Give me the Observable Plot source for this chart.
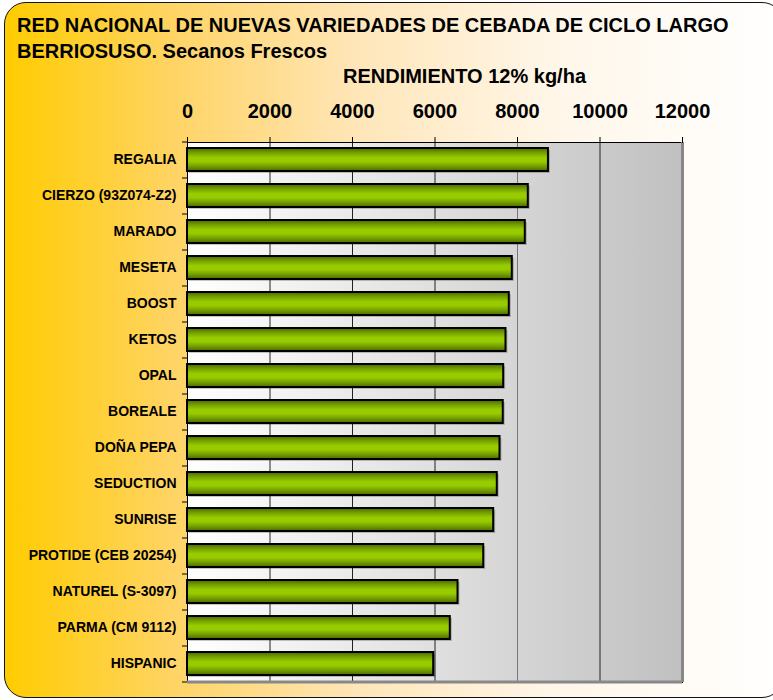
<!DOCTYPE html>
<html><head><meta charset="utf-8">
<script src="https://cdn.jsdelivr.net/npm/d3@7"></script>
<script src="https://cdn.jsdelivr.net/npm/@observablehq/plot@0.6"></script>
<style>
body{margin:0;}
#wrap{position:relative;width:773px;height:700px;overflow:hidden;background:#fff;font-family:"Liberation Sans",Arial,sans-serif;}
#bg{position:absolute;left:4px;top:2px;width:780px;height:696px;border:1.5px solid #111;border-radius:22px;box-sizing:border-box;
background:linear-gradient(to right,#FFCC00 0%,#FFD466 22%,#FFE6B8 45%,#FFF6E8 70%,#FFFFFF 100%);}
#title{position:absolute;left:17px;top:12px;font-weight:bold;font-size:20px;line-height:26px;color:#000;white-space:nowrap;}
#chart{position:absolute;left:0;top:60px;}
</style></head>
<body>
<div id="wrap"><div id="bg"></div>
<div id="title">RED NACIONAL DE NUEVAS VARIEDADES DE CEBADA DE CICLO LARGO<br>BERRIOSUSO. Secanos Frescos</div>
<div id="chart"></div></div>
<script>
const varieties = ["REGALIA","CIERZO (93Z074-Z2)","MARADO","MESETA","BOOST","KETOS","OPAL","BOREALE","DOÑA PEPA","SEDUCTION","SUNRISE","PROTIDE (CEB 20254)","NATUREL (S-3097)","PARMA (CM 9112)","HISPANIC"];
const yields = [8750,8262,8189,7874,7801,7721,7665,7655,7576,7510,7423,7181,6558,6371,5968];
const xTicks = [0,2000,4000,6000,8000,10000,12000];
const gridTicks = [2000,4000,6000,8000,10000];
const axisLabel = "RENDIMIENTO 12% kg/ha";

const data = varieties.map((v,i)=>({variety:v, value:yields[i]}));
const font = "Liberation Sans, Arial, sans-serif";

const chart = Plot.plot({
  width: 773, height: 640,
  marginLeft: 187, marginRight: 91, marginTop: 82, marginBottom: 18,
  style: {background: "none", fontFamily: font, overflow: "visible", color: "#000"},
  x: {domain: [0,12000], ticks: xTicks},
  y: {domain: varieties, paddingInner: 0.36, paddingOuter: 0.18},
  marks: [
    Plot.frame({fill: "url(#plotbg)", stroke: "none"}),
    Plot.ruleX(gridTicks, {stroke: d => d === 8000 ? "#777" : "#222", strokeWidth: 1}),
    Plot.barX(data, {x: "value", y: "variety", fill: "#000", fillOpacity: 0.22, dx: 2, dy: 2}),
    Plot.barX(data, {x: "value", y: "variety", fill: "url(#bargrad)", stroke: "#000", strokeWidth: 2}),
    Plot.frame({stroke: "#000", strokeWidth: 1}),
    Plot.ruleX([12000], {stroke: "#888", strokeWidth: 3}),
    Plot.ruleY([varieties[varieties.length-1]], {x1: 0, x2: 12000, dy: 18, stroke: "#888", strokeWidth: 3}),
    Plot.axisX({anchor: "top", ticks: xTicks, tickSize: 6, tickPadding: 19, fontSize: 20, fontWeight: "bold", label: null, tickFormat: d => String(d)}),
    Plot.text([axisLabel], {frameAnchor: "top", dx: 29.5, dy: -59.3, lineAnchor: "bottom", fontSize: 20, fontWeight: "bold", fill: "#000"}),
    Plot.axisY({tickSize: 0, tickPadding: 11, fontSize: 14, fontWeight: "bold", label: null}),
    Plot.axisY({tickSize: 5, dy: -18, text: null, label: null}),
    Plot.axisY({ticks: [varieties[varieties.length-1]], tickSize: 5, dy: 18, text: null, label: null})
  ]
});

d3.select(chart).insert("defs", ":first-child").html(`
  <linearGradient id="plotbg" x1="0" y1="0" x2="1" y2="0">
    <stop offset="0" stop-color="#ffffff"/>
    <stop offset="1" stop-color="#c0c0c0"/>
  </linearGradient>
  <linearGradient id="bargrad" x1="0" y1="0" x2="0" y2="1">
    <stop offset="0" stop-color="#4a6600"/>
    <stop offset="0.18" stop-color="#6f9a00"/>
    <stop offset="0.42" stop-color="#99cc00"/>
    <stop offset="0.58" stop-color="#99cc00"/>
    <stop offset="0.82" stop-color="#6f9a00"/>
    <stop offset="1" stop-color="#4a6600"/>
  </linearGradient>`);

document.getElementById("chart").appendChild(chart);
</script>
</body></html>
